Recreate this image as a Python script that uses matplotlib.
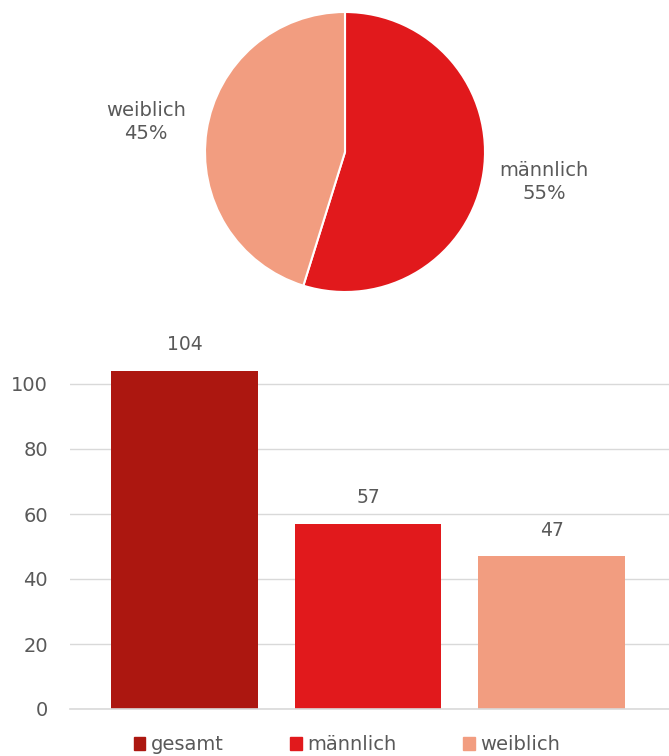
import matplotlib
matplotlib.use('Agg')
import matplotlib.pyplot as plt
from matplotlib.patches import Patch

# data
categories = ['gesamt', 'männlich', 'weiblich']
counts = [104, 57, 47]
pie_labels = ['männlich', 'weiblich']
pie_values = [57, 47]
yticks = [0, 20, 40, 60, 80, 100]

colors = {'gesamt': '#AC1710', 'männlich': '#E1191C', 'weiblich': '#F29D80'}
text_col = '#595959'

plt.rcParams['font.family'] = ['DejaVu Sans']

W, H = 669, 756
fig = plt.figure(figsize=(W / 100, H / 100), dpi=100)

# pie chart
ax_pie = fig.add_axes([205 / W, (H - 292) / H, 280 / W, 280 / H])
total = sum(pie_values)
labels = [f'{n}\n{round(v / total * 100)}%' for n, v in zip(pie_labels, pie_values)]
wedges, texts = ax_pie.pie(pie_values, labels=labels, colors=[colors[n] for n in pie_labels],
                           startangle=90, counterclock=False, labeldistance=1.44,
                           wedgeprops=dict(edgecolor='white', linewidth=1.5),
                           textprops=dict(color=text_col, fontsize=14, linespacing=1.25))
for t in texts:
    t.set_ha('center')
    t.set_va('center')
ax_pie.set_xlim(-1, 1)
ax_pie.set_ylim(-1, 1)
ax_pie.set_aspect('equal')

# bar chart
ax = fig.add_axes([70 / W, (H - 709) / H, (W - 70) / W, 357.5 / H])
x = range(len(categories))
bars = ax.bar(x, counts, width=0.8, color=[colors[c] for c in categories], zorder=3)
for xi, v in zip(x, counts):
    ax.annotate(str(v), (xi, v), xytext=(0, 12), textcoords='offset points',
                ha='center', va='bottom', color=text_col, fontsize=13.5)
ax.set_ylim(0, 110)
ax.set_xlim(-0.624, 2.64)
ax.set_yticks(yticks)
ax.set_xticks([])
ax.tick_params(axis='y', length=0, pad=16, labelsize=14, labelcolor=text_col)
ax.grid(axis='y', color='#D9D9D9', linewidth=1, zorder=0)
ax.axhline(0, color='#D9D9D9', linewidth=1.2, zorder=4, clip_on=False)
for s in ax.spines.values():
    s.set_visible(False)

handles = [Patch(color=colors[c], label=c) for c in categories]
fig.legend(handles=handles, loc='center', bbox_to_anchor=(347 / W, 1 - 745 / H), ncol=3,
           frameon=False, fontsize=14, labelcolor=text_col, handlelength=0.6,
           handleheight=0.6, handletextpad=0.3, columnspacing=3.4)

fig.savefig('out.png', dpi=100)
